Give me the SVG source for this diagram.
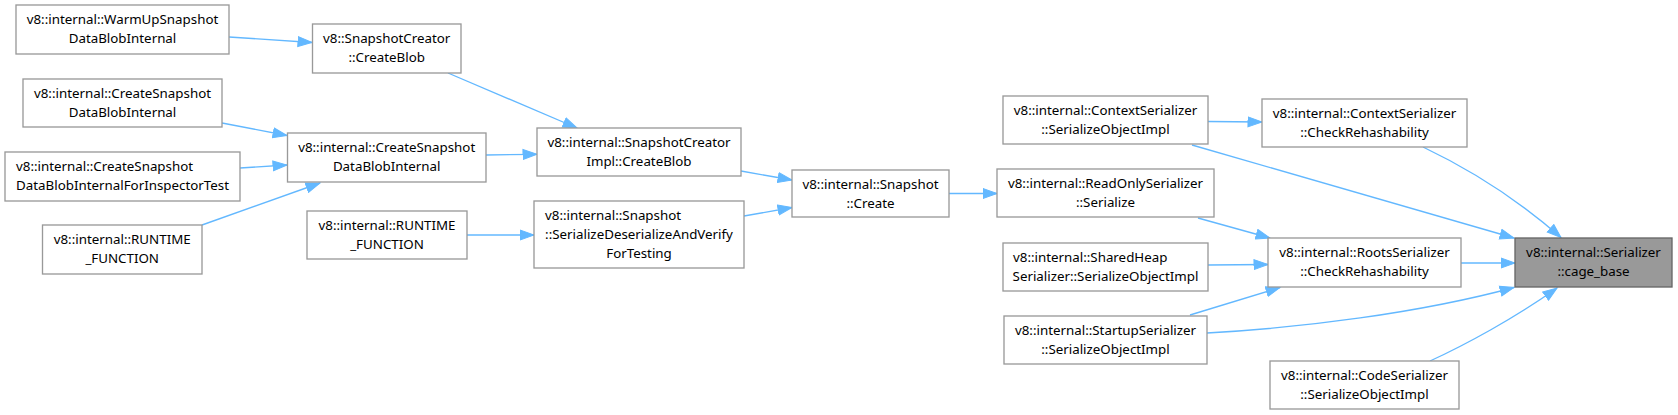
<svg xmlns="http://www.w3.org/2000/svg" width="1678" height="415" viewBox="0 0 1678 415">
<defs>
<style>
.n rect{fill:#ffffff;stroke:#999999;stroke-width:1.33}
.n.hl rect{fill:#999999;stroke:#666666}
text{font-family:"Noto Sans","Liberation Sans",sans-serif;font-size:13.33px;fill:#000000}
.m{text-anchor:middle}
.s{text-anchor:start}
.e path{fill:none;stroke:#63b8ff;stroke-width:1.33}
</style>
<marker id="ah" markerUnits="userSpaceOnUse" markerWidth="16" markerHeight="12" viewBox="0 -6 15 12" refX="14" refY="0" orient="auto">
<path d="M0,-5 L14,0 L0,5 z" fill="#63b8ff" stroke="#63b8ff" stroke-width="1"/>
</marker>
</defs>
<rect width="1678" height="415" fill="#ffffff"/>
<g id="connectors" class="e">
<path d="M229,37 L312,42.5" marker-end="url(#ah)"/>
<path d="M448,73 L577,128" marker-end="url(#ah)"/>
<path d="M222,123 L287,135.5" marker-end="url(#ah)"/>
<path d="M240,168 L287,165" marker-end="url(#ah)"/>
<path d="M202,225 L320,183" marker-end="url(#ah)"/>
<path d="M486,155 L537,154.3" marker-end="url(#ah)"/>
<path d="M467,235 L534,235" marker-end="url(#ah)"/>
<path d="M741,171 L792,180" marker-end="url(#ah)"/>
<path d="M744,216 L792,207.5" marker-end="url(#ah)"/>
<path d="M949,193.5 L997,193.5" marker-end="url(#ah)"/>
<path d="M1208,121.5 L1262,122" marker-end="url(#ah)"/>
<path d="M1192,145 L1514,238" marker-end="url(#ah)"/>
<path d="M1423,147 C1465,167 1515,197 1561,237.5" marker-end="url(#ah)"/>
<path d="M1198,218 L1270,238" marker-end="url(#ah)"/>
<path d="M1208,265 L1268,264.5" marker-end="url(#ah)"/>
<path d="M1190,315 L1280,287.5" marker-end="url(#ah)"/>
<path d="M1461,263 L1515,263" marker-end="url(#ah)"/>
<path d="M1207,333 C1300,328 1420,313 1514,287.5" marker-end="url(#ah)"/>
<path d="M1430,361 C1465,345 1515,318 1557,288" marker-end="url(#ah)"/>
</g>
<g id="n1" class="n"><rect x="16" y="5" width="213" height="49"/><text class="m" x="122.5" y="24">v8::internal::WarmUpSnapshot</text><text class="m" x="122.5" y="43">DataBlobInternal</text></g>
<g id="n2" class="n"><rect x="312.5" y="24" width="148.5" height="49"/><text class="m" x="386.7" y="43">v8::SnapshotCreator</text><text class="m" x="386.7" y="62">::CreateBlob</text></g>
<g id="n3" class="n"><rect x="23" y="79" width="199" height="48"/><text class="m" x="122.5" y="98">v8::internal::CreateSnapshot</text><text class="m" x="122.5" y="117">DataBlobInternal</text></g>
<g id="n4" class="n"><rect x="5" y="152" width="235" height="49"/><text class="s" x="16" y="171">v8::internal::CreateSnapshot</text><text class="m" x="122.5" y="190">DataBlobInternalForInspectorTest</text></g>
<g id="n5" class="n"><rect x="42.5" y="225" width="159.5" height="49"/><text class="m" x="122.2" y="244">v8::internal::RUNTIME</text><text class="m" x="122.2" y="263">_FUNCTION</text></g>
<g id="n6" class="n"><rect x="287.5" y="133" width="198.5" height="49"/><text class="m" x="386.7" y="152">v8::internal::CreateSnapshot</text><text class="m" x="386.7" y="171">DataBlobInternal</text></g>
<g id="n7" class="n"><rect x="307" y="211" width="160" height="48"/><text class="m" x="387" y="230">v8::internal::RUNTIME</text><text class="m" x="387" y="249">_FUNCTION</text></g>
<g id="n8" class="n"><rect x="537" y="128" width="204" height="48"/><text class="m" x="639" y="147">v8::internal::SnapshotCreator</text><text class="m" x="639" y="166">Impl::CreateBlob</text></g>
<g id="n9" class="n"><rect x="534" y="201" width="210" height="67"/><text class="s" x="545" y="220">v8::internal::Snapshot</text><text class="m" x="639" y="239">::SerializeDeserializeAndVerify</text><text class="m" x="639" y="258">ForTesting</text></g>
<g id="n10" class="n"><rect x="792" y="170" width="157" height="47"/><text class="m" x="870.5" y="189">v8::internal::Snapshot</text><text class="m" x="870.5" y="208">::Create</text></g>
<g id="n11" class="n"><rect x="1003" y="96" width="205" height="48"/><text class="m" x="1105.5" y="115">v8::internal::ContextSerializer</text><text class="m" x="1105.5" y="134">::SerializeObjectImpl</text></g>
<g id="n12" class="n"><rect x="1262" y="99" width="205" height="48"/><text class="m" x="1364.5" y="118">v8::internal::ContextSerializer</text><text class="m" x="1364.5" y="137">::CheckRehashability</text></g>
<g id="n13" class="n"><rect x="997" y="169" width="217" height="48"/><text class="m" x="1105.5" y="188">v8::internal::ReadOnlySerializer</text><text class="m" x="1105.5" y="207">::Serialize</text></g>
<g id="n14" class="n"><rect x="1003" y="243" width="205" height="48"/><text class="s" x="1013" y="262">v8::internal::SharedHeap</text><text class="m" x="1105.5" y="281">Serializer::SerializeObjectImpl</text></g>
<g id="n15" class="n"><rect x="1268" y="238" width="193" height="49"/><text class="m" x="1364.5" y="257">v8::internal::RootsSerializer</text><text class="m" x="1364.5" y="276">::CheckRehashability</text></g>
<g id="n16" class="n"><rect x="1004" y="316" width="203" height="48"/><text class="m" x="1105.5" y="335">v8::internal::StartupSerializer</text><text class="m" x="1105.5" y="354">::SerializeObjectImpl</text></g>
<g id="n17" class="n"><rect x="1270" y="361" width="189" height="48"/><text class="m" x="1364.5" y="380">v8::internal::CodeSerializer</text><text class="m" x="1364.5" y="399">::SerializeObjectImpl</text></g>
<g id="n18" class="n hl"><rect x="1515" y="238" width="157" height="49"/><text class="m" x="1593.5" y="257">v8::internal::Serializer</text><text class="m" x="1593.5" y="276">::cage_base</text></g>
</svg>
